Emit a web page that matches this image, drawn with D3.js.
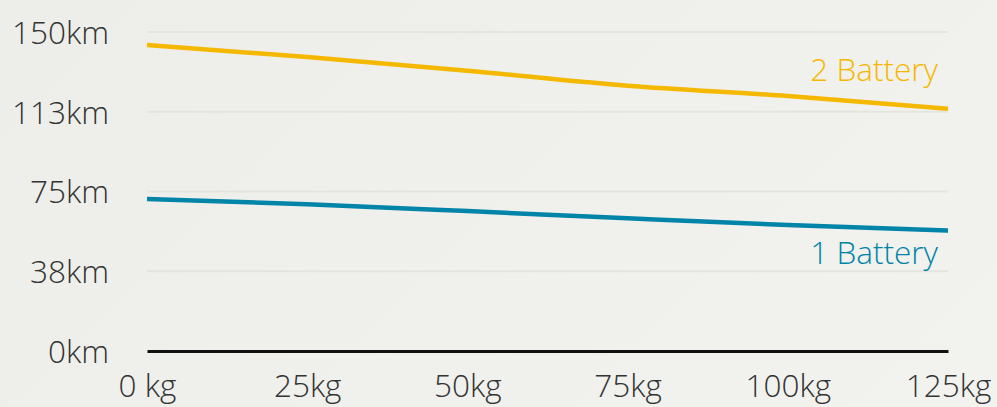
<!DOCTYPE html>
<html>
<head>
<meta charset="utf-8">
<script src="https://cdn.jsdelivr.net/npm/d3@7"></script>
<style>
  html, body { margin: 0; padding: 0; }
  body { width: 997px; height: 407px; overflow: hidden; background: linear-gradient(135deg, #edede9 0%, #f2f2ef 100%); }
  svg { display: block; }
  svg text { font-family: 'Open Sans', sans-serif; font-weight: 300; }
</style>
</head>
<body>
<div id="chart"></div>
<script>
const loads = [0, 25, 50, 75, 100, 125]
const oneBattery = [71.5, 69.0, 65.8, 62.4, 59.2, 56.6]
const twoBattery = [143.9, 138.2, 131.8, 124.7, 119.9, 113.9]
const yTicks = [0, 37.5, 75, 112.5, 150]
const xTickLabels = ['0 kg', '25kg', '50kg', '75kg', '100kg', '125kg']

const series = [
  { name: '2 Battery', values: twoBattery, color: '#f5b800', labelDy: -39 },
  { name: '1 Battery', values: oneBattery, color: '#0084a8', labelDy: 22 }
]

const width = 997
const height = 407
const margin = { top: 32, right: 49, bottom: 56, left: 147 }

const svg = d3.select('#chart').append('svg')
  .attr('width', width)
  .attr('height', height)

const x = d3.scaleLinear().domain([0, 125]).range([margin.left, width - margin.right])
const y = d3.scaleLinear().domain([0, 150]).range([height - margin.bottom, margin.top])

// gridlines
svg.append('g')
  .selectAll('line')
  .data(yTicks.filter(d => d > 0))
  .join('line')
  .attr('x1', x(0))
  .attr('x2', x(125))
  .attr('y1', d => y(d))
  .attr('y2', d => y(d))
  .style('stroke', '#e5e5df')
  .style('stroke-width', '2px')

// y labels
const yAxis = svg.append('g')
  .attr('transform', `translate(${margin.left - 38},0)`)
  .call(d3.axisLeft(y).tickValues(yTicks).tickSize(0).tickPadding(0).tickFormat(d => Math.round(d) + 'km'))
yAxis.attr('font-family', null).attr('font-size', null)
yAxis.select('.domain').remove()
yAxis.selectAll('text')
  .style('font-size', '31.5px')
  .style('fill', '#333')
  .attr('dy', '0.36em')

// x axis
const xAxis = svg.append('g')
  .attr('transform', `translate(0,${y(0)})`)
  .call(d3.axisBottom(x).tickValues(loads).tickSize(0).tickPadding(22).tickFormat((d, i) => xTickLabels[i]))
xAxis.attr('font-family', null).attr('font-size', null)
xAxis.select('.domain')
  .style('stroke', '#111')
  .style('stroke-width', '3px')
xAxis.selectAll('text')
  .style('font-size', '31.5px')
  .style('fill', '#333')
  .attr('dy', '0.75em')

const line = d3.line()
  .x((d, i) => x(loads[i]))
  .y(d => y(d))
  .curve(d3.curveMonotoneX)

svg.append('g')
  .selectAll('path')
  .data(series)
  .join('path')
  .attr('d', d => line(d.values))
  .style('fill', 'none')
  .style('stroke', d => d.color)
  .style('stroke-width', '4.5px')

svg.append('g')
  .selectAll('text')
  .data(series)
  .join('text')
  .attr('x', x(125) - 10)
  .attr('y', d => y(d.values[d.values.length - 1]) + d.labelDy)
  .attr('dy', '0.35em')
  .attr('text-anchor', 'end')
  .style('font-size', '31.5px')
  .style('fill', d => d.color)
  .text(d => d.name)
</script>
</body>
</html>
